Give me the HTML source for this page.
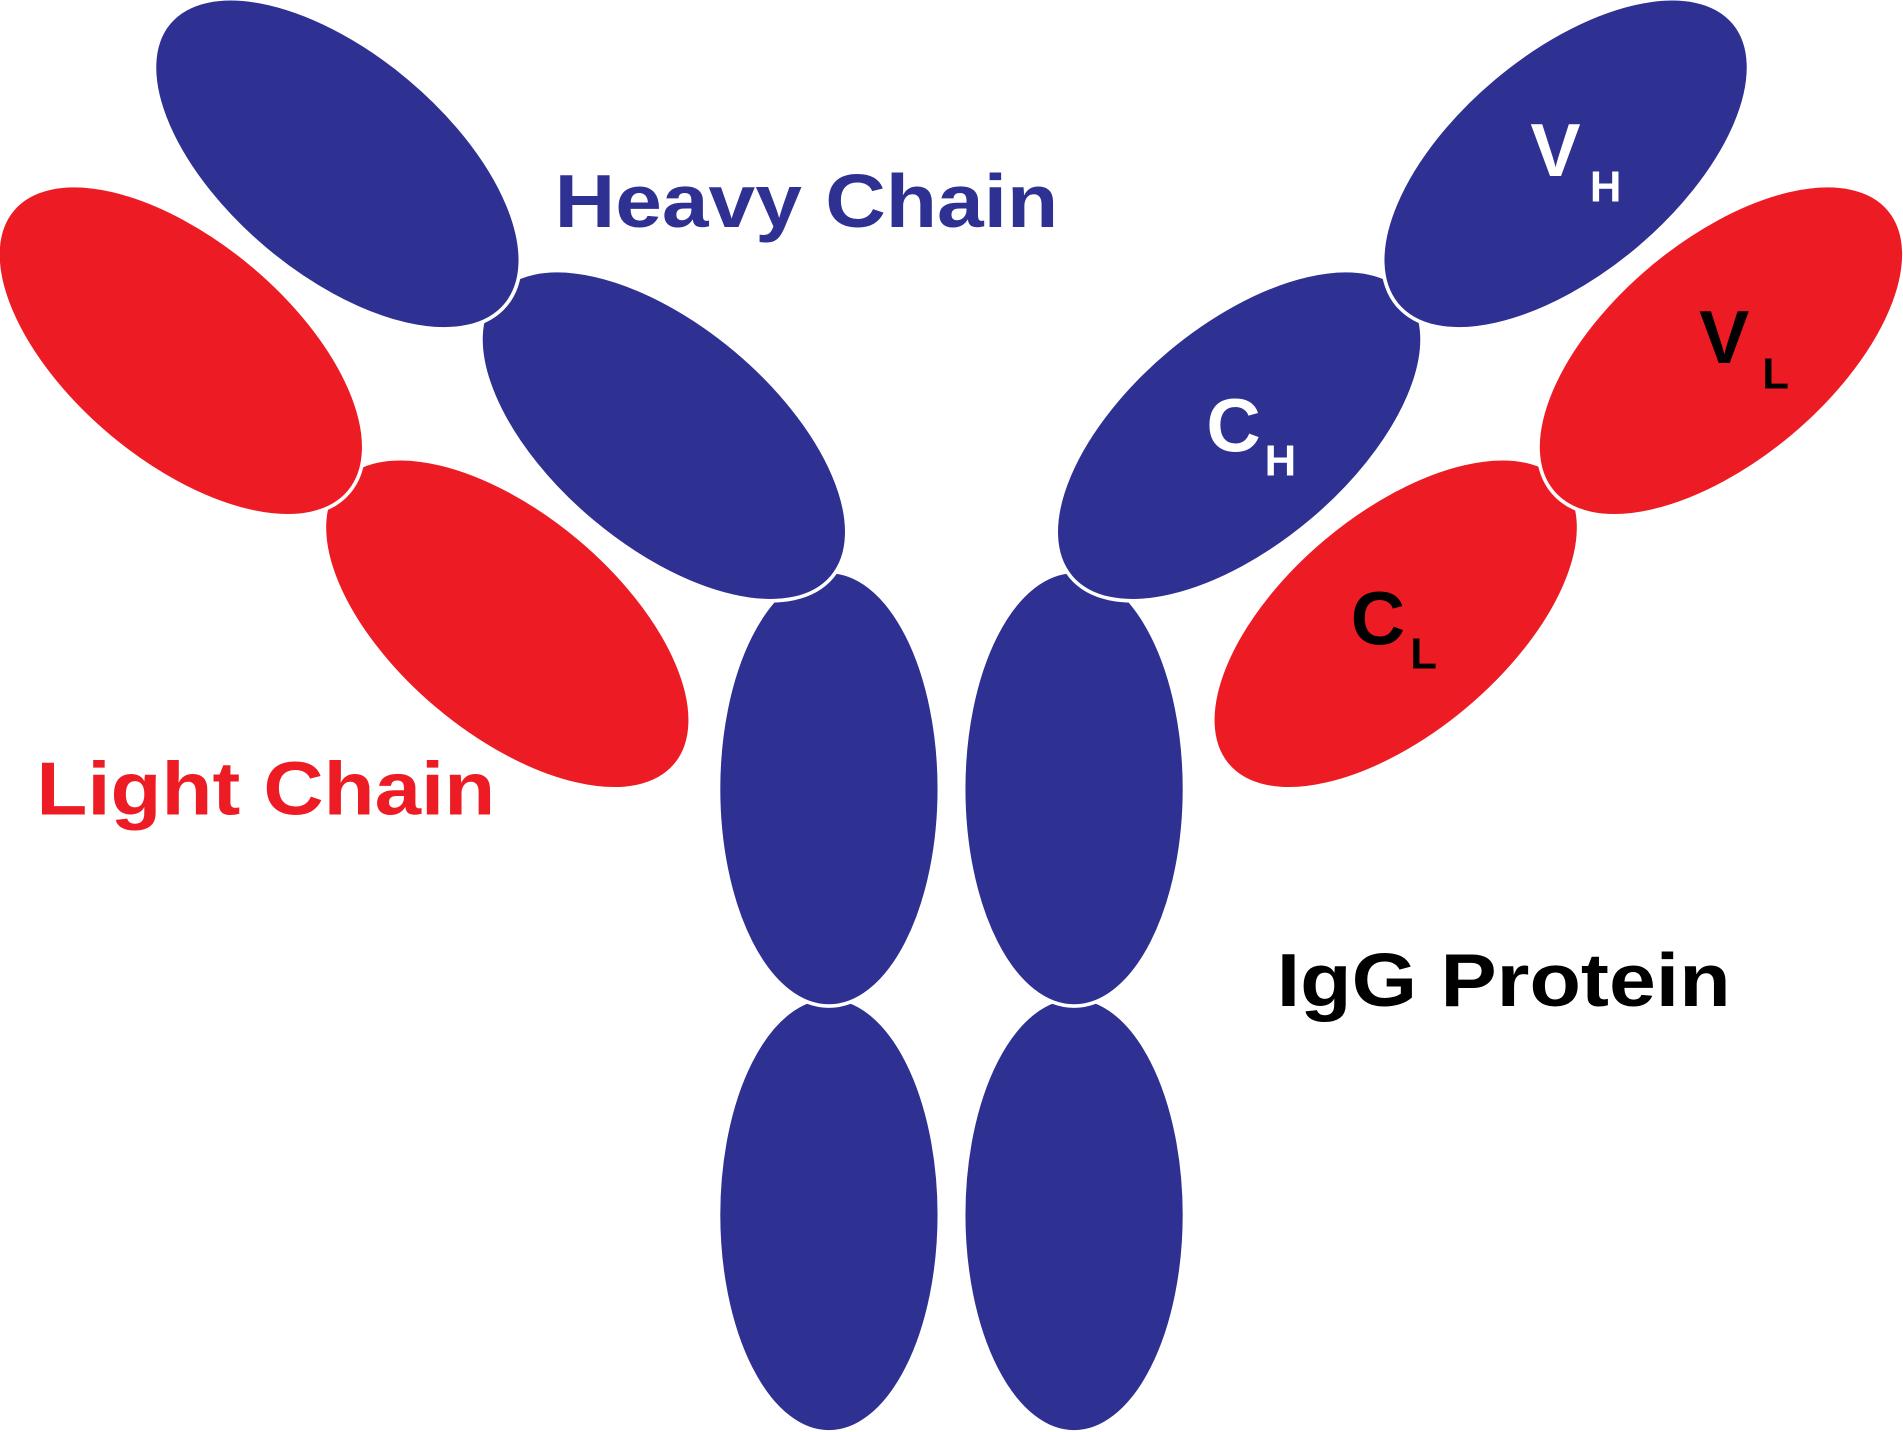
<!DOCTYPE html>
<html><head><meta charset="utf-8"><style>html,body{margin:0;padding:0;background:#fff;}svg{display:block}</style></head>
<body>
<svg width="1903" height="1432" viewBox="0 0 1568 1180" preserveAspectRatio="none" xmlns="http://www.w3.org/2000/svg">
<g stroke="#fff" stroke-width="3">
<ellipse cx="683" cy="1001" rx="91" ry="179" fill="#2e3192"/>
<ellipse cx="885" cy="1001" rx="91" ry="179" fill="#2e3192"/>
<ellipse cx="683" cy="650" rx="91" ry="179" fill="#2e3192"/>
<ellipse cx="885" cy="650" rx="91" ry="179" fill="#2e3192"/>
<ellipse cx="547" cy="359" rx="181" ry="92" fill="#2e3192" transform="rotate(40 547 359)"/>
<ellipse cx="278" cy="135" rx="181" ry="92" fill="#2e3192" transform="rotate(40 278 135)"/>
<ellipse cx="418" cy="514" rx="181" ry="92" fill="#ed1c24" transform="rotate(40 418 514)"/>
<ellipse cx="149" cy="289" rx="181" ry="92" fill="#ed1c24" transform="rotate(40 149 289)"/>
<ellipse cx="1021" cy="359" rx="181" ry="92" fill="#2e3192" transform="rotate(-40 1021 359)"/>
<ellipse cx="1290" cy="135" rx="181" ry="92" fill="#2e3192" transform="rotate(-40 1290 135)"/>
<ellipse cx="1150" cy="514" rx="181" ry="92" fill="#ed1c24" transform="rotate(-40 1150 514)"/>
<ellipse cx="1418" cy="289" rx="181" ry="92" fill="#ed1c24" transform="rotate(-40 1418 289)"/>
</g>
<g font-family="Liberation Sans, Arial, sans-serif" font-weight="bold">
<text x="457" y="187" font-size="62" fill="#2e3192" textLength="415" lengthAdjust="spacingAndGlyphs">Heavy Chain</text>
<text x="30" y="671" font-size="62" fill="#ed1c24" textLength="378" lengthAdjust="spacingAndGlyphs">Light Chain</text>
<text x="1052" y="829" font-size="62" fill="#000" textLength="374" lengthAdjust="spacingAndGlyphs">IgG Protein</text>
<text x="1261" y="145" font-size="62" fill="#fff">V</text>
<text x="1310" y="166" font-size="36" fill="#fff">H</text>
<text x="1400" y="299" font-size="62" fill="#000">V</text>
<text x="1452" y="320" font-size="36" fill="#000">L</text>
<text x="994" y="372" font-size="62" fill="#fff">C</text>
<text x="1042" y="392" font-size="36" fill="#fff">H</text>
<text x="1113" y="531" font-size="62" fill="#000">C</text>
<text x="1162" y="551" font-size="36" fill="#000">L</text>
</g>
</svg>
</body></html>
